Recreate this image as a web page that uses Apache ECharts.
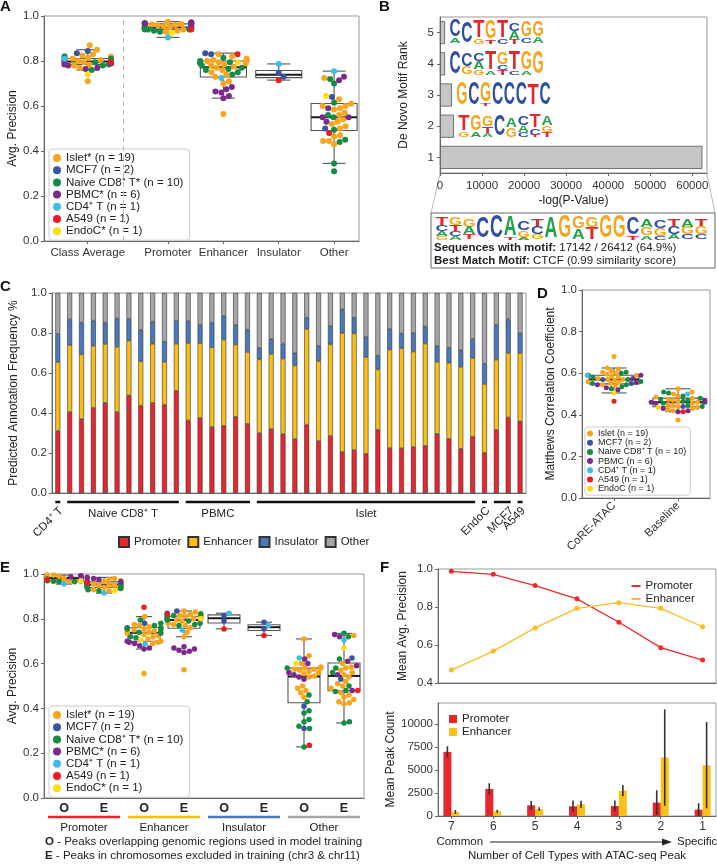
<!DOCTYPE html>
<html><head><meta charset="utf-8">
<script src="https://cdn.jsdelivr.net/npm/echarts@6/dist/echarts.min.js"></script>
<style>html,body{margin:0;padding:0;background:#fff}#c{width:717px;height:865px}</style>
</head><body><div id="c"></div>
<script>
// ================= DATA =================
const cellTypes = ['Islet', 'MCF7', 'Naive CD8⁺ T', 'PBMC', 'CD4⁺ T', 'A549', 'EndoC'];
const cellCounts = [19, 2, 10, 6, 1, 1, 1];
const legendNamesA = ['Islet* (n = 19)', 'MCF7 (n = 2)', 'Naive CD8⁺ T* (n = 10)', 'PBMC* (n = 6)', 'CD4⁺ T (n = 1)', 'A549 (n = 1)', 'EndoC* (n = 1)'];
const legendNamesD = ['Islet (n = 19)', 'MCF7 (n = 2)', 'Naive CD8⁺ T (n = 10)', 'PBMC (n = 6)', 'CD4⁺ T (n = 1)', 'A549 (n = 1)', 'EndoC (n = 1)'];

// Panel A: average precision per sample (order: Islet x19, MCF7 x2, Naive x10, PBMC x6, CD4, A549, EndoC)
const apCategoriesA = ['Class Average', 'Promoter', 'Enhancer', 'Insulator', 'Other'];
const apClassAvg = [0.87,0.85,0.83,0.825,0.82,0.82,0.815,0.81,0.81,0.805,0.80,0.80,0.795,0.79,0.79,0.785,0.78,0.77,0.71,
  0.845,0.835, 0.82,0.81,0.80,0.80,0.795,0.79,0.79,0.785,0.78,0.76, 0.80,0.79,0.785,0.78,0.77,0.765, 0.81, 0.795, 0.74];
const apPromoter = [0.975,0.97,0.97,0.968,0.965,0.965,0.962,0.96,0.958,0.955,0.95,0.948,0.945,0.945,0.945,0.943,0.94,0.935,0.93,
  0.955,0.945, 0.958,0.952,0.948,0.945,0.943,0.94,0.94,0.94,0.935,0.93, 0.972,0.97,0.968,0.967,0.965,0.962, 0.905, 0.94, 0.925];
const apEnhancer = [0.83,0.82,0.81,0.805,0.80,0.80,0.795,0.79,0.785,0.78,0.775,0.77,0.76,0.75,0.74,0.73,0.71,0.70,0.565,
  0.835,0.83, 0.815,0.80,0.795,0.79,0.78,0.77,0.765,0.76,0.75,0.74, 0.685,0.675,0.665,0.66,0.645,0.635, 0.725, 0.83, 0.795];
const apInsulator = [0.787, 0.748, 0.73, 0.715];
const apInsulatorTypes = [4, 1, 1, 5];
const apOther = [0.725,0.63,0.61,0.60,0.60,0.59,0.585,0.57,0.56,0.54,0.53,0.52,0.51,0.50,0.47,0.465,0.445,0.445,0.43,
  0.64,0.50, 0.72,0.70,0.615,0.56,0.55,0.495,0.45,0.44,0.345,0.31, 0.73,0.715,0.59,0.55,0.55,0.53, 0.755, 0.48, 0.645];

// Panel B: de novo motifs
const motifRanks = ['1', '2', '3', '4', '5'];
const motifScores = [62400, 3320, 2850, 1200, 1200];
const motifStats = ['Sequences with motif:', '17142 / 26412 (64.9%)', 'Best Match Motif:', 'CTCF (0.99 similarity score)'];
// sequence logos: columns, letters top-to-bottom with relative heights
const motif5 = [[['C',.72],['A',.25]],[['C',.95]],[['T',.75],['G',.2]],[['G',.8],['T',.18]],[['T',.75],['C',.22]],[['C',.35],['A',.35],['T',.2]],[['G',.7],['C',.25]],[['G',.7],['A',.28]]];
const motif4 = [[['C',.97]],[['C',.6],['G',.35]],[['C',.35],['A',.35],['G',.25]],[['T',.8],['A',.18]],[['G',.5],['C',.25],['T',.2]],[['T',.8],['C',.18]],[['G',.8],['A',.18]],[['G',.97]]];
const motif3 = [[['G',.97]],[['C',.97]],[['G',.85],['T',.12]],[['C',.97]],[['C',.97]],[['C',.97]],[['T',.9]],[['C',.97]]];
const motif2 = [[['T',.7],['G',.25]],[['G',.7],['A',.25]],[['G',.45],['T',.3],['A',.15]],[['C',.95]],[['A',.4],['G',.4]],[['C',.38],['A',.3],['C',.2]],[['T',.55],['C',.3],['T',.1]],[['A',.4],['G',.3],['T',.2]]];
const motif1 = [[['T',.3],['C',.25],['A',.2],['G',.15]],[['G',.3],['T',.25],['C',.2],['A',.15]],[['G',.3],['A',.3],['T',.2]],[['C',.9]],[['C',.95]],[['A',.85],['T',.1]],[['C',.4],['G',.25],['A',.1]],[['T',.35],['C',.3],['G',.2]],[['A',.9]],[['G',.95]],[['G',.5],['A',.45]],[['G',.45],['T',.5]],[['G',.95]],[['G',.95]],[['C',.7],['T',.15]],[['A',.35],['G',.35],['A',.15]],[['C',.3],['G',.3],['C',.15]],[['T',.3],['C',.3],['A',.2]],[['A',.3],['G',.3],['C',.2]],[['T',.3],['G',.3],['C',.2]]];

// Panel C: predicted annotation frequency per sample
const cGroups = ['CD4⁺ T', 'Naive CD8⁺ T', 'PBMC', 'Islet', 'EndoC', 'MCF7', 'A549'];
const cGroupSizes = [1, 10, 6, 19, 1, 2, 1];
const cClasses = ['Promoter', 'Enhancer', 'Insulator', 'Other'];
const cPromoter = [.31,.405,.37,.426,.451,.405,.488,.437,.451,.442,.511,.363,.375,.33,.336,.381,.346,.30,.32,.295,.27,.342,.26,.285,.205,.215,.196,.317,.225,.224,.23,.236,.296,.271,.221,.282,.201,.316,.378,.358];
const cEnhancer = [.345,.335,.323,.31,.294,.326,.274,.221,.295,.214,.235,.387,.375,.399,.431,.361,.359,.368,.375,.377,.367,.478,.40,.458,.595,.583,.484,.301,.492,.499,.477,.511,.36,.38,.41,.393,.344,.351,.322,.342];
const cInsulator = [.14,.128,.159,.126,.107,.142,.108,.157,.111,.101,.114,.11,.09,.123,.118,.098,.112,.056,.074,.075,.062,.057,.075,.092,.118,.079,.10,.069,.103,.075,.093,.085,.079,.076,.083,.095,.102,.173,.168,.098];
const cOther = [.205,.132,.148,.138,.148,.127,.13,.185,.143,.243,.14,.14,.16,.148,.115,.16,.183,.276,.231,.253,.301,.123,.265,.165,.082,.123,.22,.313,.18,.202,.20,.168,.265,.273,.286,.23,.353,.16,.132,.202];

// Panel D: Matthews correlation coefficient
const mccMethods = ['CoRE-ATAC', 'Baseline'];
const mccCoreAtac = [0.68,0.625,0.62,0.61,0.605,0.60,0.595,0.59,0.585,0.58,0.575,0.57,0.57,0.565,0.56,0.555,0.55,0.545,0.54,
  0.57,0.55, 0.605,0.60,0.59,0.58,0.57,0.56,0.55,0.545,0.535,0.525, 0.59,0.575,0.555,0.545,0.53,0.52, 0.59, 0.465, 0.505];
const mccBaseline = [0.525,0.51,0.50,0.49,0.485,0.48,0.475,0.47,0.465,0.46,0.455,0.45,0.445,0.44,0.435,0.43,0.425,0.42,0.375,
  0.46,0.44, 0.51,0.505,0.49,0.48,0.475,0.47,0.465,0.455,0.445,0.44, 0.47,0.46,0.455,0.43,0.42,0.415, 0.50, 0.415, 0.435];

// Panel E: O (overlapping training regions) vs E (excluded chromosomes)
const eSetLabels = ['O', 'E', 'O', 'E', 'O', 'E', 'O', 'E'];
const eClasses = ['Promoter', 'Enhancer', 'Insulator', 'Other'];
const eOPromoter = [.995,.995,.99,.99,.99,.985,.985,.985,.98,.98,.98,.98,.975,.975,.975,.97,.97,.97,.965,
  .985,.98, .98,.978,.975,.975,.972,.97,.97,.968,.965,.965, .992,.99,.99,.988,.985,.985, .955, .975, .97];
const eEPromoter = [.98,.975,.97,.97,.965,.96,.96,.955,.955,.95,.95,.95,.945,.945,.94,.94,.935,.93,.925,
  .96,.95, .965,.96,.955,.95,.945,.94,.94,.935,.93,.925, .985,.98,.975,.97,.965,.96, .915, .96, .925];
const eOEnhancer = [.81,.775,.77,.765,.76,.755,.75,.75,.745,.74,.735,.73,.725,.72,.71,.70,.695,.69,.556,
  .78,.76, .795,.78,.77,.76,.755,.75,.74,.735,.72,.715, .70,.695,.69,.68,.67,.665, .689, .852, .705];
const eEEnhancer = [.835,.83,.825,.82,.815,.81,.81,.805,.80,.80,.795,.79,.78,.775,.77,.76,.74,.72,.573,
  .835,.825, .82,.815,.81,.805,.80,.795,.79,.78,.775,.77, .675,.67,.665,.66,.655,.65, .75, .82, .80];
const eOInsulator = [.825, .815, .79, .755];
const eOInsulatorTypes = [4, 1, 1, 5];
const eEInsulator = [.785, .77, .755, .726];
const eEInsulatorTypes = [1, 4, 1, 5];
const eOOther = [.71,.635,.60,.585,.58,.58,.575,.575,.57,.565,.56,.555,.545,.54,.50,.49,.48,.47,.45,
  .41,.31, .58,.46,.43,.39,.38,.35,.34,.32,.31,.228, .62,.60,.56,.55,.54,.53, .625, .235, .60];
const eEOther = [.725,.60,.585,.58,.57,.56,.55,.54,.52,.51,.50,.49,.47,.46,.45,.44,.43,.425,.42,
  .625,.53, .735,.72,.62,.58,.56,.50,.48,.475,.34,.335, .73,.72,.61,.59,.55,.48, .705, .48, .67];
const eFootnotes = [['O', ' - Peaks overlapping genomic regions used in model training'], ['E', ' - Peaks in chromosomes excluded in training (chr3 & chr11)']];

// Panel F: by number of cell types sharing the peak
const cellTypeCounts = [7, 6, 5, 4, 3, 2, 1];
const fPromoterAP = [0.988, 0.972, 0.913, 0.843, 0.72, 0.586, 0.521];
const fEnhancerAP = [0.468, 0.568, 0.69, 0.793, 0.823, 0.793, 0.696];
const fPromoterCount = [6980, 2945, 1164, 1055, 1090, 1455, 690];
const fPromoterSD = [610, 620, 480, 620, 600, 1350, 700];
const fEnhancerCount = [436, 509, 764, 1273, 2764, 6364, 5527];
const fEnhancerSD = [220, 170, 200, 400, 620, 5250, 4700];
const fAxisEnds = ['Common', 'Specific', 'Number of Cell Types with ATAC-seq Peak'];

// ================= STYLE / LAYOUT =================
const FONT = "'Liberation Sans', Arial, sans-serif";
const TXT = '#333';
const cellColors = ['#f8a51e', '#3a54a4', '#178a45', '#7b2a8c', '#3fbce8', '#ec1c24', '#ffdc17'];
const classColors = ['#e8262b', '#fbbf13', '#4a78bd', '#a6a6a6'];
const logoColors = {A: '#22a34a', C: '#2e4ea2', G: '#f6a41c', T: '#e1262c'};
const glyphW = {A: 0.722, C: 0.722, G: 0.778, T: 0.611};
const L = {
  A: {left: 44, top: 16, width: 315, height: 225},
  B: {left: 440, top: 17, width: 267, height: 156},
  C: {left: 44, top: 293, width: 482, height: 200},
  D: {left: 582, top: 290, width: 128, height: 208},
  E: {left: 44, top: 574, width: 320, height: 224},
  F1: {left: 438, top: 569, width: 278, height: 114},
  F2: {left: 438, top: 703, width: 278, height: 113}
};
const xRangeA = [-1.24, 4.45];
const posA = [-0.45, 1, 2, 3, 4];
const dividerA = 0.205;
const xRangeD = [-0.5, 1.5];
const xRangeE = [-0.5, 7.5];
const xRangeF = [0.68, 7.32];

// ================= HELPERS =================
function typesFromCounts() { const t = []; cellCounts.forEach((n, k) => { for (let i = 0; i < n; i++) t.push(k); }); return t; }
const stdTypes = typesFromCounts();
function quant(s, p) { const pos = (s.length - 1) * p, lo = Math.floor(pos), hi = Math.ceil(pos); return s[lo] + (s[hi] - s[lo]) * (pos - lo); }
function boxStats(vals) {
  const s = [...vals].sort((a, b) => a - b);
  const q1 = quant(s, .25), med = quant(s, .5), q3 = quant(s, .75), iqr = q3 - q1;
  const lo = Math.min(...s.filter(v => v >= q1 - 1.5 * iqr - 1e-9));
  const hi = Math.max(...s.filter(v => v <= q3 + 1.5 * iqr + 1e-9));
  return [q1, med, q3, lo, hi];
}
function swarm(vals, pxY, d, lim) {
  const order = vals.map((v, i) => i).sort((a, b) => vals[a] - vals[b]);
  const placed = [], offs = new Array(vals.length);
  for (const i of order) {
    const y = vals[i] * pxY;
    const near = placed.filter(p => Math.abs(p.y - y) < d);
    const cands = [0];
    near.forEach(p => { const dx = Math.sqrt(d * d - (p.y - y) ** 2); cands.push(p.x + dx, p.x - dx); });
    cands.sort((a, b) => Math.abs(a) - Math.abs(b));
    let x = null;
    for (const c of cands) { if (near.every(p => (p.x - c) ** 2 + (p.y - y) ** 2 >= d * d - 1e-6)) { x = c; break; } }
    if (x === null) x = 0;
    if (Math.abs(x) > lim) x = Math.sign(x) * lim;
    placed.push({x, y}); offs[i] = x;
  }
  return offs;
}
function boxSeries(xi, groups, boxW) {
  return {
    type: 'custom', xAxisIndex: xi, yAxisIndex: xi, z: 1, silent: true,
    data: groups.map(g => [g.x, ...boxStats(g.vals)]),
    encode: {x: 0, y: [1, 2, 3, 4, 5]},
    renderItem(params, api) {
      const x = api.value(0);
      const c = v => api.coord([x, v]);
      const cx = c(api.value(1))[0];
      const y1 = c(api.value(1))[1], ym = c(api.value(2))[1], y3 = c(api.value(3))[1], ylo = c(api.value(4))[1], yhi = c(api.value(5))[1];
      const hw = boxW / 2, cw = boxW / 4;
      const ls = {stroke: '#555', lineWidth: 1.1, fill: null};
      return {type: 'group', children: [
        {type: 'line', shape: {x1: cx, y1: y1, x2: cx, y2: ylo}, style: ls},
        {type: 'line', shape: {x1: cx, y1: y3, x2: cx, y2: yhi}, style: ls},
        {type: 'line', shape: {x1: cx - cw, y1: ylo, x2: cx + cw, y2: ylo}, style: ls},
        {type: 'line', shape: {x1: cx - cw, y1: yhi, x2: cx + cw, y2: yhi}, style: ls},
        {type: 'rect', shape: {x: cx - hw, y: y3, width: boxW, height: y1 - y3}, style: {stroke: '#555', lineWidth: 1.1, fill: 'rgba(255,255,255,0)'}},
        {type: 'line', shape: {x1: cx - hw, y1: ym, x2: cx + hw, y2: ym}, style: {stroke: '#1a1a1a', lineWidth: 2}}
      ]};
    }
  };
}
function swarmSeries(xi, groups, grid, xr, names, size) {
  const pxX = grid.width / (xr[1] - xr[0]), pxY = grid.height;
  const per = names.map(() => []);
  groups.forEach(g => {
    const offs = swarm(g.vals, pxY, size, 0.42 * pxX);
    g.vals.forEach((v, i) => per[g.types[i]].push([g.x + offs[i] / pxX, v]));
  });
  return names.map((n, t) => ({
    type: 'scatter', name: n, xAxisIndex: xi, yAxisIndex: xi, symbolSize: size, z: 3,
    itemStyle: {color: cellColors[t], opacity: 1}, data: per[t], emphasis: {disabled: true}, silent: true
  }));
}
function errBarSeries(name, xi, means, sds, color, side) {
  return {
    type: 'custom', name, xAxisIndex: xi, yAxisIndex: xi, itemStyle: {color}, silent: true,
    data: cellTypeCounts.map((k, i) => [k, means[i], sds[i]]), encode: {x: 0, y: 1},
    renderItem(p, api) {
      const x = api.value(0), m = api.value(1), s = api.value(2);
      const base = api.coord([x, 0]), top = api.coord([x, m]);
      const lo = api.coord([x, Math.max(0, m - s)]), hi = api.coord([x, m + s]);
      const w = 8, x0 = side < 0 ? base[0] - w : base[0], cx = x0 + w / 2;
      return {type: 'group', children: [
        {type: 'rect', shape: {x: x0, y: top[1], width: w, height: base[1] - top[1]}, style: {fill: color}},
        {type: 'line', shape: {x1: cx, y1: lo[1], x2: cx, y2: hi[1]}, style: {stroke: '#333', lineWidth: 1.6}}
      ]};
    }
  };
}
const axLine = {show: true, onZero: false, lineStyle: {color: '#666', width: 1}};
const axTick = {show: true, length: 3, lineStyle: {color: '#666'}};
const lab = (extra) => Object.assign({color: TXT, fontSize: 11.5, fontFamily: FONT}, extra || {});
const nameStyle = {color: '#222', fontSize: 12, fontFamily: FONT};
function yVal(gi, min, max, interval, name, gap, fmt, extra) {
  return Object.assign({
    gridIndex: gi, type: 'value', min, max, interval, name, nameLocation: 'middle', nameGap: gap, nameTextStyle: nameStyle,
    axisLine: axLine, axisTick: axTick, splitLine: {show: false},
    axisLabel: lab({margin: 5, formatter: fmt || (v => v.toFixed(1))})
  }, extra || {});
}
function logoGraphics(cols, x, y, w, h) {
  const cw = w / cols.length, out = [], S = 20;
  cols.forEach((col, i) => {
    const tot = col.reduce((a, b) => a + b[1], 0);
    let yy = y + h - tot * h;
    col.forEach(([ch, f]) => {
      const lh = f * h;
      if (lh >= 0.8) out.push({type: 'text', silent: true, x: x + cw * (i + 0.5), y: yy + lh / 2,
        scaleX: cw * 0.94 / (glyphW[ch] * S), scaleY: lh / (0.72 * S),
        style: {text: ch, font: `bold ${S}px 'Liberation Sans', Arial`, fill: logoColors[ch], align: 'center', verticalAlign: 'middle'}});
      yy += lh;
    });
  });
  return out;
}

// ================= GROUPS =================
const groupsA = [
  {x: posA[0], vals: apClassAvg, types: stdTypes}, {x: posA[1], vals: apPromoter, types: stdTypes},
  {x: posA[2], vals: apEnhancer, types: stdTypes}, {x: posA[3], vals: apInsulator, types: apInsulatorTypes},
  {x: posA[4], vals: apOther, types: stdTypes}];
const groupsD = [{x: 0, vals: mccCoreAtac, types: stdTypes}, {x: 1, vals: mccBaseline, types: stdTypes}];
const eData = [eOPromoter, eEPromoter, eOEnhancer, eEEnhancer, eOInsulator, eEInsulator, eOOther, eEOther];
const eTypes = [stdTypes, stdTypes, stdTypes, stdTypes, eOInsulatorTypes, eEInsulatorTypes, stdTypes, stdTypes];
const groupsE = eData.map((v, i) => ({x: i, vals: v, types: eTypes[i]}));
const cSampleIds = []; cGroups.forEach((g, k) => { for (let i = 0; i < cGroupSizes[k]; i++) cSampleIds.push(g + ' ' + (i + 1)); });
const cData = [cPromoter, cEnhancer, cInsulator, cOther];

// ================= OPTION =================
const grids = ['A', 'B', 'C', 'D', 'E', 'F1', 'F2'].map(k => Object.assign({show: true, borderColor: '#999', borderWidth: 1, backgroundColor: 'transparent'}, L[k]));
const posE = eSetLabels.map((_, i) => i);
const xAxes = [
  {gridIndex: 0, type: 'value', min: xRangeA[0], max: xRangeA[1], splitLine: {show: false}, axisLine: axLine,
    axisTick: Object.assign({}, axTick, {customValues: posA}),
    axisLabel: lab({margin: 6, customValues: posA, formatter: v => apCategoriesA[posA.findIndex(p => Math.abs(p - v) < 1e-6)] || ''})},
  {gridIndex: 1, type: 'value', min: 0, max: 63500, interval: 10000, splitLine: {show: false}, axisLine: axLine, axisTick: axTick,
    axisLabel: lab({margin: 7, showMaxLabel: false, formatter: v => String(v)}),
    name: '-log(P-Value)', nameLocation: 'middle', nameGap: 22, nameTextStyle: nameStyle},
  {gridIndex: 2, type: 'category', data: cSampleIds, axisLine: axLine, axisTick: {show: false}, axisLabel: {show: false}},
  {gridIndex: 3, type: 'value', min: xRangeD[0], max: xRangeD[1], splitLine: {show: false}, axisLine: axLine,
    axisTick: Object.assign({}, axTick, {customValues: [0, 1]}),
    axisLabel: lab({margin: 6, rotate: 45, customValues: [0, 1], formatter: v => mccMethods[Math.round(v)] || ''})},
  {gridIndex: 4, type: 'value', min: xRangeE[0], max: xRangeE[1], splitLine: {show: false}, axisLine: axLine, axisTick: {show: false},
    axisLabel: {customValues: posE, margin: 4, color: '#222', fontSize: 12.5, fontWeight: 'bold', fontFamily: FONT, formatter: v => eSetLabels[Math.round(v)] || ''}},
  {gridIndex: 5, type: 'value', inverse: true, min: xRangeF[0], max: xRangeF[1], splitLine: {show: false}, axisLine: axLine, axisTick: {show: false}, axisLabel: {show: false}},
  {gridIndex: 6, type: 'value', inverse: true, min: xRangeF[0], max: xRangeF[1], splitLine: {show: false}, axisLine: axLine,
    axisTick: Object.assign({}, axTick, {customValues: cellTypeCounts}),
    axisLabel: lab({margin: 5, fontSize: 12, customValues: cellTypeCounts, formatter: v => String(Math.round(v))})}
];
const yAxes = [
  yVal(0, 0, 1, 0.2, 'Avg. Precision', 25),
  {gridIndex: 1, type: 'category', data: motifRanks, axisLine: axLine, axisTick: Object.assign({}, axTick, {alignWithLabel: true}),
    axisLabel: lab({margin: 6}), name: 'De Novo Motif Rank', nameLocation: 'middle', nameGap: 30, nameTextStyle: nameStyle},
  yVal(2, 0, 1, 0.2, 'Predicted Annotation Frequency %', 25),
  yVal(3, 0, 1, 0.2, 'Matthews Correlation Coefficient', 22),
  yVal(4, 0, 1, 0.2, 'Avg. Precision', 25),
  yVal(5, 0.4, 1.0, 0.2, 'Mean Avg. Precision', 29),
  yVal(6, 0, 12300, 2500, 'Mean Peak Count', 34, v => String(v), {axisLabel: lab({margin: 5, showMaxLabel: false, formatter: v => String(v)})})
];

const series = [];
// A
series.push(boxSeries(0, groupsA, 46));
const sA = swarmSeries(0, groupsA, L.A, xRangeA, legendNamesA, 6);
sA[0].markLine = {silent: true, symbol: 'none', label: {show: false}, lineStyle: {type: [5, 4], color: '#bbb', width: 1}, data: [{xAxis: dividerA}]};
series.push(...sA);
// B
series.push({type: 'bar', xAxisIndex: 1, yAxisIndex: 1, data: motifScores, barWidth: '74%', silent: true,
  itemStyle: {color: '#c6c6c6', borderColor: '#555', borderWidth: 0.8}});
// C
cClasses.forEach((n, k) => series.push({type: 'bar', name: n, xAxisIndex: 2, yAxisIndex: 2, stack: 'c', barWidth: 5, silent: true,
  data: cData[k], itemStyle: {color: classColors[k], borderColor: '#333', borderWidth: 0.6}}));
// D
series.push(boxSeries(3, groupsD, 50));
series.push(...swarmSeries(3, groupsD, L.D, xRangeD, legendNamesD, 5));
// E
series.push(boxSeries(4, groupsE, 32));
series.push(...swarmSeries(4, groupsE, L.E, xRangeE, legendNamesA, 5.5));
// F
series.push({type: 'line', name: 'Promoter ', xAxisIndex: 5, yAxisIndex: 5, data: cellTypeCounts.map((k, i) => [k, fPromoterAP[i]]),
  symbol: 'circle', symbolSize: 5, lineStyle: {width: 1.3, color: '#ee2a2e'}, itemStyle: {color: '#ee2a2e'}, silent: true});
series.push({type: 'line', name: 'Enhancer ', xAxisIndex: 5, yAxisIndex: 5, data: cellTypeCounts.map((k, i) => [k, fEnhancerAP[i]]),
  symbol: 'circle', symbolSize: 5, lineStyle: {width: 1.3, color: '#fbbb22'}, itemStyle: {color: '#fbbb22'}, silent: true});
series.push(errBarSeries('Promoter  ', 6, fPromoterCount, fPromoterSD, '#e8262b', -1));
series.push(errBarSeries('Enhancer  ', 6, fEnhancerCount, fEnhancerSD, '#fcc119', 1));

const legBase = {orient: 'vertical', selectedMode: false, icon: 'circle', itemWidth: 8, itemHeight: 8, itemGap: 0.2,
  padding: [3, 6, 3, 4], borderColor: '#ccc', borderWidth: 1, borderRadius: 3, backgroundColor: '#fff',
  textStyle: {fontSize: 11.5, fontFamily: FONT, color: '#222', lineHeight: 10.6}};
const legends = [
  Object.assign({}, legBase, {left: 49, top: 149, data: legendNamesA}),
  {left: 113, top: 531, orient: 'horizontal', selectedMode: false, data: cClasses, icon: 'rect', itemWidth: 10, itemHeight: 10, itemGap: 6,
    textStyle: {fontSize: 11.5, fontFamily: FONT, color: '#222'}},
  Object.assign({}, legBase, {left: 585, top: 427, data: legendNamesD, itemWidth: 6, itemHeight: 6, itemGap: 0.2, padding: [2, 4, 2, 2],
    textStyle: {fontSize: 9, fontFamily: FONT, color: '#222', lineHeight: 7.9}}),
  Object.assign({}, legBase, {left: 49, top: 706, data: legendNamesA}),
  {right: 14, top: 575, orient: 'vertical', selectedMode: false, data: ['Promoter ', 'Enhancer '], icon: 'rect', itemWidth: 9, itemHeight: 2, itemGap: 1,
    textStyle: {fontSize: 11.5, fontFamily: FONT, color: '#222', lineHeight: 11.5}},
  {left: 444, top: 708, orient: 'vertical', selectedMode: false, data: ['Promoter  ', 'Enhancer  '], icon: 'rect', itemWidth: 8, itemHeight: 8, itemGap: 1,
    textStyle: {fontSize: 11.5, fontFamily: FONT, color: '#222', lineHeight: 11.7}}
];

const chart = echarts.init(document.getElementById('c'), null, {renderer: 'canvas', width: 717, height: 865});
chart.setOption({animation: false, textStyle: {fontFamily: FONT}, grid: grids, xAxis: xAxes, yAxis: yAxes, series, legend: legends});

// ================= GRAPHICS (derived from axes) =================
const g = [];
const T = (text, x, y, opt) => g.push(Object.assign({type: 'text', silent: true, x, y,
  style: Object.assign({text, font: `11.5px ${FONT}`, fill: '#222', align: 'center', verticalAlign: 'middle'}, (opt && opt.style) || {})},
  opt && opt.rotation !== undefined ? {rotation: opt.rotation} : {}));
// panel letters
[['A', 0, 7], ['B', 379, 7], ['C', 0, 287], ['D', 537, 294], ['E', 0, 568], ['F', 380, 568]].forEach(([t, x, y]) =>
  T(t, x, y, {style: {font: `bold 15px ${FONT}`, fill: '#111', align: 'left'}}));
// Panel B: logos next to bars, zoom lines and annotation box
const bx = v => chart.convertToPixel({xAxisIndex: 1}, v);
const byc = i => chart.convertToPixel({yAxisIndex: 1}, i);
[[motif2, 1], [motif3, 2], [motif4, 3], [motif5, 4]].forEach(([m, i]) => {
  const x0 = bx(motifScores[i]) + 4, cy = byc(i);
  g.push(...logoGraphics(m, x0, cy - 11.5, 95, 23));
});
const bBot = L.B.top + L.B.height;
g.push({type: 'line', silent: true, shape: {x1: bx(0), y1: bBot + 1, x2: 431, y2: 213}, style: {stroke: '#bbb', lineWidth: 1}});
g.push({type: 'line', silent: true, shape: {x1: L.B.left + L.B.width, y1: bBot + 1, x2: 715, y2: 213}, style: {stroke: '#bbb', lineWidth: 1}});
g.push({type: 'rect', silent: true, shape: {x: 431, y: 213, width: 284, height: 55}, style: {stroke: '#666', lineWidth: 1, fill: '#fff'}});
g.push(...logoGraphics(motif1, 435, 216, 273, 24));
T(`{b|${motifStats[0]}} ${motifStats[1]}`, 434, 248, {style: {align: 'left', rich: {b: {fontWeight: 'bold', fontSize: 11.5, fontFamily: FONT}}}});
T(`{b|${motifStats[2]}} ${motifStats[3]}`, 434, 261, {style: {align: 'left', rich: {b: {fontWeight: 'bold', fontSize: 11.5, fontFamily: FONT}}}});
// Panel C: group brackets and labels
const cx = i => chart.convertToPixel({xAxisIndex: 2}, i);
let idx = 0;
cGroups.forEach((name, k) => {
  const n = cGroupSizes[k], a = cx(idx) - 2.5, b = cx(idx + n - 1) + 2.5;
  g.push({type: 'line', silent: true, shape: {x1: a, y1: 502, x2: b, y2: 502}, style: {stroke: '#111', lineWidth: 2.5}});
  if (n <= 2) T(name, b + 1, 509, {rotation: Math.PI / 4, style: {align: 'right'}});
  else T(name, (a + b) / 2, 514);
  idx += n;
});
// Panel E: class bars and footnotes
const ex = v => chart.convertToPixel({xAxisIndex: 4}, v);
eClasses.forEach((name, k) => {
  const a = ex(2 * k - 0.4), b = ex(2 * k + 1.4);
  g.push({type: 'line', silent: true, shape: {x1: a, y1: 817, x2: b, y2: 817}, style: {stroke: classColors[k], lineWidth: 2.5}});
  T(name, ex(2 * k + 0.5), 828);
});
eFootnotes.forEach(([b, rest], i) => T(`{b|${b}}${rest}`, 45, 842 + i * 14,
  {style: {align: 'left', rich: {b: {fontWeight: 'bold', fontSize: 11.5, fontFamily: FONT}}}}));
// Panel F: common -> specific
const fx = v => chart.convertToPixel({xAxisIndex: 6}, v);
T(fAxisEnds[0], fx(7) - 15, 842, {style: {align: 'left'}});
T(fAxisEnds[1], 677, 842, {style: {align: 'left'}});
g.push({type: 'line', silent: true, shape: {x1: 490, y1: 842, x2: 663, y2: 842}, style: {stroke: '#222', lineWidth: 1.2}});
g.push({type: 'polygon', silent: true, shape: {points: [[672, 842], [662, 838.5], [662, 845.5]]}, style: {fill: '#222'}});
T(fAxisEnds[2], (fx(7) + fx(1)) / 2, 856);
chart.setOption({graphic: g});
</script></body></html>
